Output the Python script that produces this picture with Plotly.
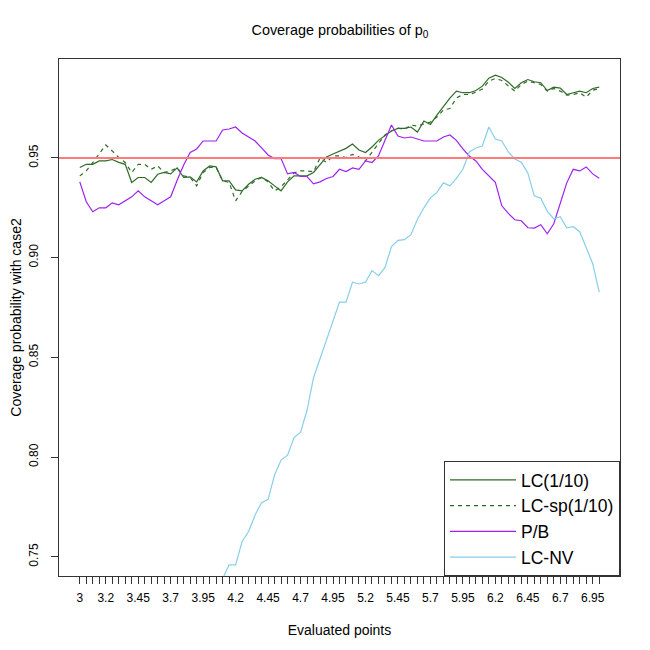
import numpy as np
import plotly.graph_objects as go

# Evaluated points 3.00 .. 7.00 (step 0.05)
points = np.round(np.arange(3.0, 7.0001, 0.05), 2)

# tick labels shown under the axis (all other ticks stay unlabeled)
tick_labels = ["3", "3.2", "3.45", "3.7", "3.95", "4.2", "4.45", "4.7", "4.95",
               "5.2", "5.45", "5.7", "5.95", "6.2", "6.45", "6.7", "6.95"]

lc = [0.9452, 0.9468, 0.9468, 0.9485, 0.9485, 0.9492, 0.9478, 0.9468, 0.9377, 0.9402,
      0.9402, 0.9377, 0.9418, 0.9427, 0.9420, 0.9450, 0.9402, 0.9405, 0.9380, 0.9435,
      0.9460, 0.9455, 0.9385, 0.9385, 0.9340, 0.9335, 0.9368, 0.9393, 0.9402, 0.9385,
      0.9360, 0.9335, 0.9380, 0.9410, 0.9410, 0.9410, 0.9427, 0.9468, 0.9505, 0.9520,
      0.9535, 0.9548, 0.9570, 0.9540, 0.9527, 0.9555, 0.9588, 0.9613, 0.9635, 0.9648,
      0.9648, 0.9655, 0.9630, 0.9685, 0.9668, 0.9715, 0.9758, 0.9800, 0.9835, 0.9827,
      0.9827, 0.9838, 0.9860, 0.9900, 0.9915, 0.9903, 0.9880, 0.9848, 0.9877, 0.9893,
      0.9882, 0.9877, 0.9838, 0.9855, 0.9850, 0.9818, 0.9827, 0.9835, 0.9827, 0.9848,
      0.9855]

lc_sp = [0.9410, 0.9435, 0.9477, 0.9518, 0.9565, 0.9535, 0.9502, 0.9477, 0.9427, 0.9468,
         0.9468, 0.9443, 0.9460, 0.9427, 0.9435, 0.9450, 0.9410, 0.9402, 0.9360, 0.9427,
         0.9452, 0.9452, 0.9385, 0.9377, 0.9285, 0.9332, 0.9360, 0.9385, 0.9402, 0.9380,
         0.9335, 0.9355, 0.9390, 0.9425, 0.9435, 0.9435, 0.9430, 0.9500, 0.9477, 0.9510,
         0.9510, 0.9502, 0.9518, 0.9505, 0.9485, 0.9530, 0.9570, 0.9615, 0.9635, 0.9650,
         0.9643, 0.9665, 0.9660, 0.9670, 0.9680, 0.9705, 0.9740, 0.9748, 0.9800, 0.9818,
         0.9818, 0.9830, 0.9845, 0.9885, 0.9898, 0.9888, 0.9860, 0.9835, 0.9868, 0.9885,
         0.9877, 0.9868, 0.9835, 0.9848, 0.9835, 0.9815, 0.9818, 0.9827, 0.9805, 0.9840,
         0.9848]

pb = [0.9380, 0.9280, 0.9230, 0.9250, 0.9250, 0.9275, 0.9265, 0.9285, 0.9305, 0.9335,
      0.9305, 0.9285, 0.9265, 0.9285, 0.9305, 0.9388, 0.9465, 0.9527, 0.9545, 0.9585,
      0.9585, 0.9585, 0.9640, 0.9645, 0.9655, 0.9625, 0.9605, 0.9585, 0.9550, 0.9515,
      0.9497, 0.9497, 0.9420, 0.9427, 0.9407, 0.9407, 0.9370, 0.9380, 0.9397, 0.9407,
      0.9443, 0.9432, 0.9450, 0.9443, 0.9485, 0.9477, 0.9510, 0.9590, 0.9665, 0.9610,
      0.9600, 0.9605, 0.9595, 0.9585, 0.9585, 0.9585, 0.9605, 0.9615, 0.9588, 0.9545,
      0.9510, 0.9485, 0.9443, 0.9410, 0.9378, 0.9260, 0.9222, 0.9190, 0.9185, 0.9150,
      0.9148, 0.9165, 0.9120, 0.9170, 0.9270, 0.9375, 0.9443, 0.9435, 0.9455, 0.9420,
      0.9398]

# LC-NV lies below the plotted range for the first points
lc_nv = [None] * 22 + [
    0.7390, 0.7460, 0.7460, 0.7577, 0.7627, 0.7710, 0.7772, 0.7788, 0.7910, 0.7985,
    0.8010, 0.8098, 0.8125, 0.8235, 0.8398, 0.8490, 0.8585, 0.8675, 0.8777, 0.8777,
    0.8877, 0.8868, 0.8877, 0.8935, 0.8910, 0.8950, 0.9055, 0.9087, 0.9090, 0.9115,
    0.9193, 0.9250, 0.9300, 0.9327, 0.9375, 0.9360, 0.9398, 0.9443, 0.9530, 0.9550,
    0.9560, 0.9655, 0.9595, 0.9585, 0.9530, 0.9495, 0.9478, 0.9425, 0.9310, 0.9298,
    0.9232, 0.9195, 0.9205, 0.9150, 0.9155, 0.9130, 0.9045, 0.8970, 0.8827]

nominal = 0.95

series = [
    ("LC(1/10)", lc, "#2f6b28", "solid"),
    ("LC-sp(1/10)", lc_sp, "#2f6b28", "4px,4px"),
    ("P/B", pb, "#a020f0", "solid"),
    ("LC-NV", lc_nv, "#87ceeb", "solid"),
]

fig = go.Figure()
for name, vals, col, dash in series:
    fig.add_trace(go.Scatter(x=points, y=vals, mode="lines", name=name,
                             line=dict(color=col, width=1.2, dash=dash)))

fig.add_hline(y=nominal, line=dict(color="#ff7a7a", width=2))

# every 0.05 gets a tick, only some get a label
ticktext = [""] * len(points)
for lab in tick_labels:
    idx = int(np.argmin(np.abs(points - float(lab))))
    ticktext[idx] = lab

# page body adds 8px around the figure, so the figure is 642 px
font = "Liberation Sans, Arial, sans-serif"
fig.update_layout(
    width=642, height=642,
    paper_bgcolor="white", plot_bgcolor="white",
    margin=dict(l=51, r=30, t=51, b=74),
    font=dict(family=font, size=12, color="black"),
    title=dict(text="Coverage probabilities of p<sub>0</sub>", x=0.517, xanchor="center",
               y=0.966, yanchor="middle", font=dict(size=14.4)),
    showlegend=True,
    legend=dict(x=1, y=0, xanchor="right", yanchor="bottom",
                bgcolor="white", bordercolor="#333333", borderwidth=1,
                font=dict(size=17.5), itemwidth=66, tracegroupgap=0),
)
fig.update_xaxes(
    range=[2.84, 7.16], tickmode="array", tickvals=points, ticktext=ticktext,
    ticks="outside", ticklen=7, tickcolor="#333333", tickangle=0, ticklabelstandoff=4,
    showline=True, linecolor="#333333", mirror=True, showgrid=False, zeroline=False,
    automargin=False,
    title=dict(text="Evaluated points", standoff=20),
)
fig.update_yaxes(
    range=[0.7404, 0.9996], tickmode="array", tickvals=[0.75, 0.80, 0.85, 0.90, 0.95],
    ticktext=["0.75", "0.80", "0.85", "0.90", "0.95"], tickangle=-90,
    ticks="outside", ticklen=7, tickcolor="#333333", ticklabelstandoff=8,
    showline=True, linecolor="#333333", mirror=True, showgrid=False, zeroline=False,
    automargin=False,
    title=dict(text="Coverage probability with case2", standoff=22),
)

fig.write_html("out.html")
